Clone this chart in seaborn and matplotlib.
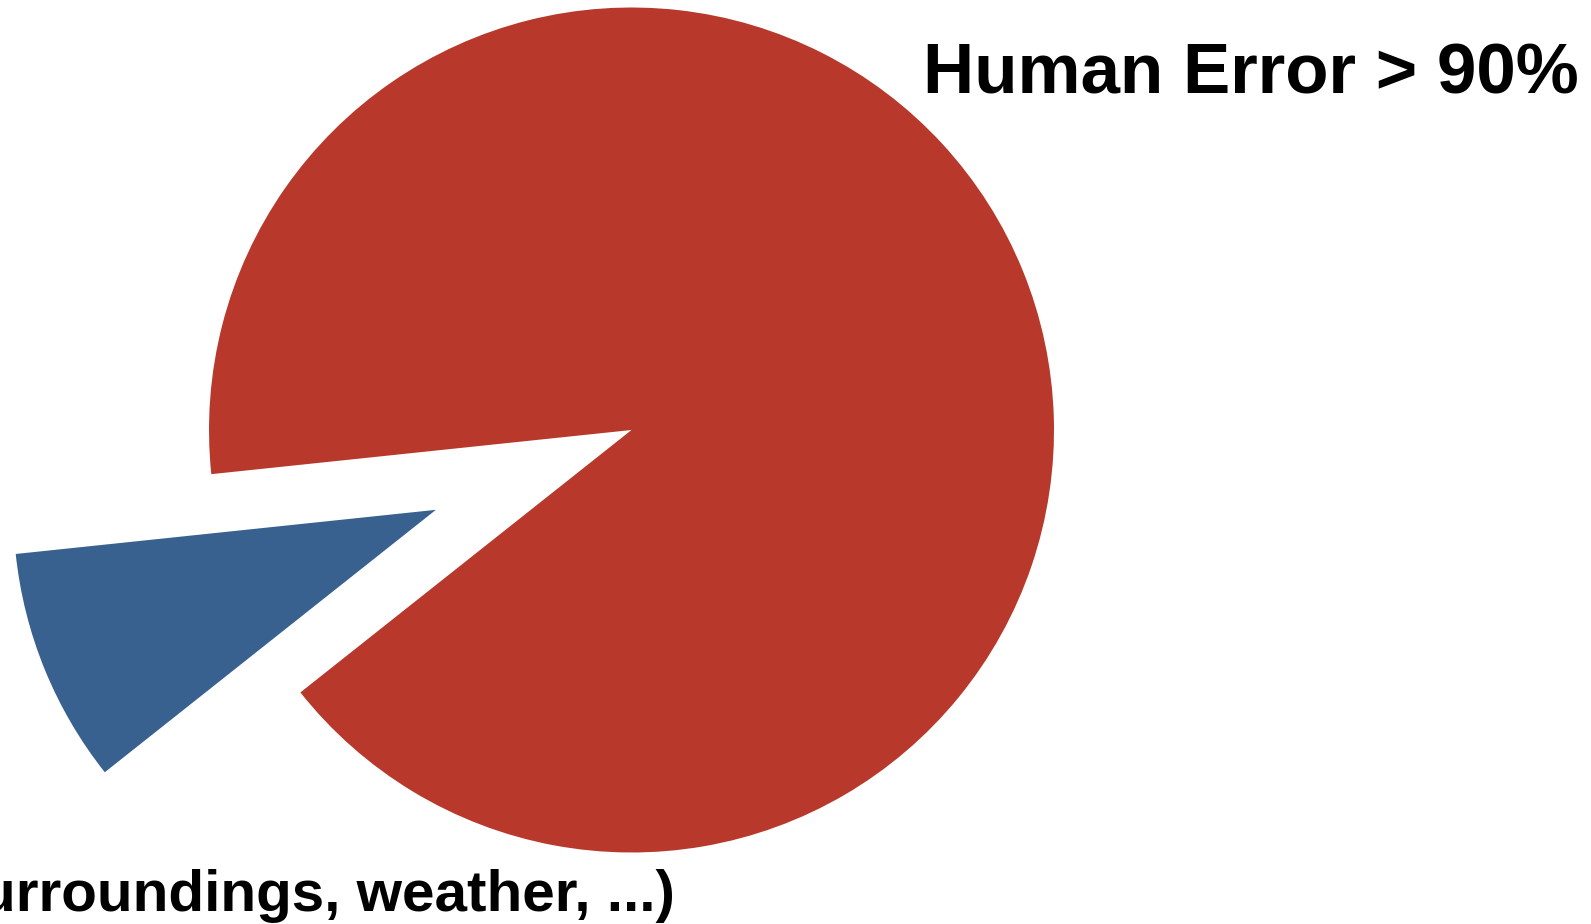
import matplotlib
matplotlib.use("Agg")
import matplotlib.pyplot as plt
import seaborn as sns

# data
categories = ["Human Error", "Other (surroundings, weather, ...)"]
shares = [91, 9]
explode_frac = [0.0, 0.5]   # as a fraction of the radius
slice_colors = ["#B8392C", "#386190"]

sns.set_theme(style="white")
plt.rcParams["font.family"] = ["Liberation Sans", "DejaVu Sans"]

W, H = 1591, 924
fig = plt.figure(figsize=(W / 100, H / 100), dpi=100)
ax = fig.add_axes([0, 0, 1, 1])

# pie centre/radius in pixel units of the canvas
radius = 422.5
ax.pie(shares, explode=[e * radius for e in explode_frac], colors=slice_colors,
       startangle=218.4, counterclock=True, center=(631.5, H - 430),
       radius=radius, wedgeprops=dict(linewidth=0), frame=True)
ax.set_xlim(0, W)
ax.set_ylim(0, H)
ax.set_aspect("equal")
ax.axis("off")

ax.text(923, H - 93, f"{categories[0]} > 90%", ha="left", va="baseline",
        fontsize=51, fontweight="bold", color="black")
# the second label runs off the left edge, as in the original
ax.text(675, H - 911, categories[1], ha="right", va="baseline",
        fontsize=42, fontweight="bold", color="black")

fig.savefig("out.png", dpi=100, facecolor="white")
